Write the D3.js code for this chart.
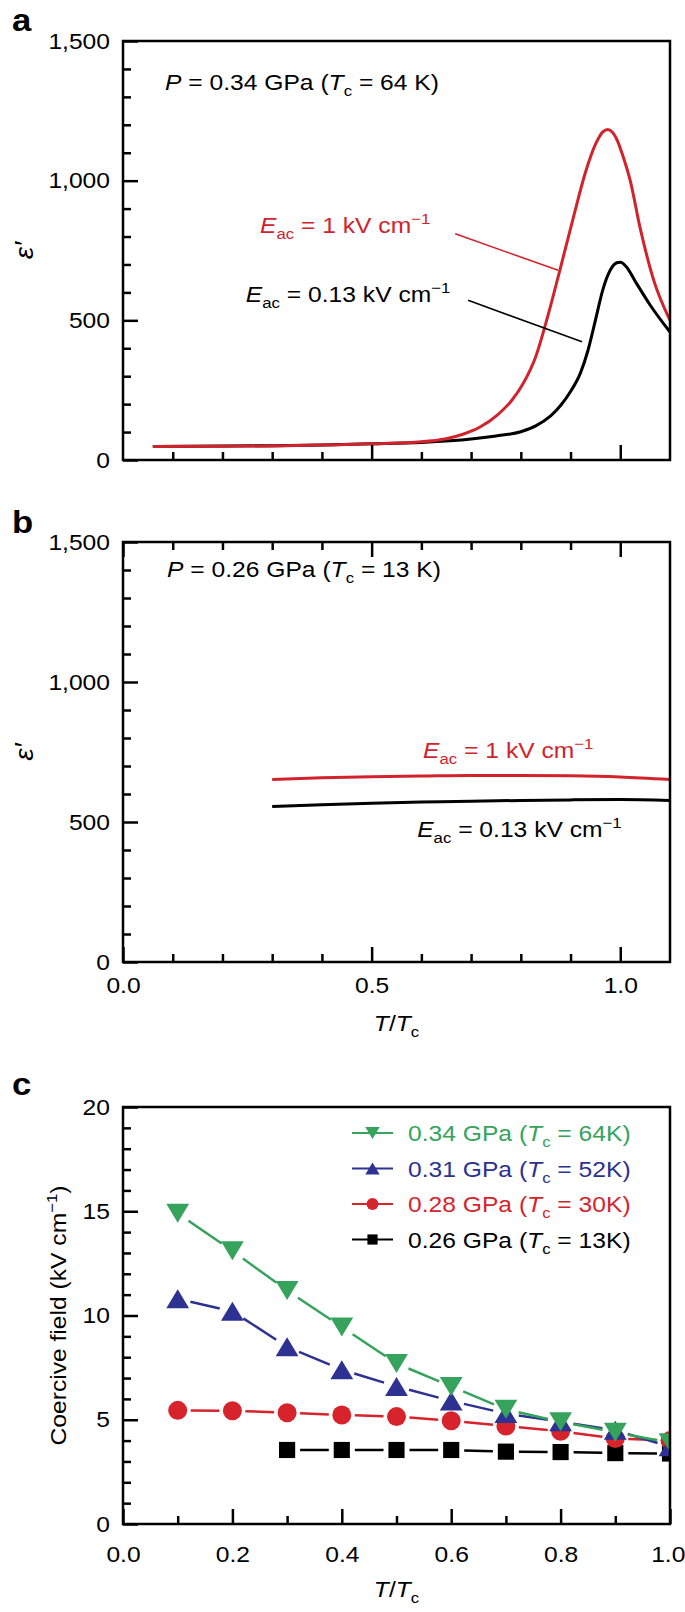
<!DOCTYPE html>
<html><head><meta charset="utf-8">
<script src="https://cdn.jsdelivr.net/npm/d3@7/dist/d3.min.js"></script>
<style>
body{margin:0;background:#fff}
text{font-family:"Liberation Sans",Arial,Helvetica,sans-serif;}
</style>
</head><body>
<svg id="chart" width="685" height="1612"></svg>
<script>
// ---------------- DATA ----------------
// Panel a: P = 0.34 GPa, [T/Tc, eps']
const aRed = [[0.06,48],[0.2,49],[0.3,50],[0.416,54],[0.5,58],[0.6,65],[0.65,76],[0.685,93],[0.718,118],[0.752,160],[0.782,214],[0.805,275],[0.83,370],[0.855,520],[0.88,690],[0.906,870],[0.93,1030],[0.95,1130],[0.965,1175],[0.975,1183],[0.985,1172],[0.995,1140],[1.005,1090],[1.02,1000],[1.04,830],[1.067,645],[1.1,500]];
const aBlack = [[0.06,48],[0.2,50],[0.3,51],[0.4,54],[0.5,58],[0.6,63],[0.7,75],[0.75,86],[0.8,101],[0.83,122],[0.86,158],[0.88,195],[0.9,245],[0.92,312],[0.935,392],[0.95,500],[0.965,610],[0.98,680],[0.993,706],[1.0,708],[1.013,690],[1.03,640],[1.06,555],[1.1,458]];
// Panel b: P = 0.26 GPa
const bRed = [[0.3,652],[0.4,658],[0.5,662],[0.6,664],[0.7,666],[0.8,666],[0.9,665],[1.0,661],[1.1,652]];
const bBlack = [[0.3,555],[0.4,562],[0.5,567],[0.6,571],[0.7,574],[0.8,577],[0.9,579],[1.0,580],[1.1,577]];
// Panel c: coercive field (kV/cm) vs T/Tc
const cT = [0.1,0.2,0.3,0.4,0.5,0.6,0.7,0.8,0.9,1.0];
const c034 = [14.9,13.1,11.2,9.45,7.7,6.6,5.5,4.9,4.4,3.9];
const c031 = [10.8,10.2,8.5,7.4,6.6,5.9,5.3,4.9,4.5,3.7];
const c028 = [5.45,5.43,5.34,5.23,5.15,4.95,4.7,4.45,4.1,4.0];
const c026T = [0.3,0.4,0.5,0.6,0.7,0.8,0.9,1.0];
const c026 = [3.55,3.55,3.55,3.55,3.47,3.45,3.4,3.38];
const cLegend = [
  {p:"0.34 GPa (", tc:" = 64K)", color:"#35a35b", shape:"down"},
  {p:"0.31 GPa (", tc:" = 52K)", color:"#2c3192", shape:"up"},
  {p:"0.28 GPa (", tc:" = 30K)", color:"#d6232c", shape:"circle"},
  {p:"0.26 GPa (", tc:" = 13K)", color:"#000000", shape:"square"}
];
// Tick values / labels
const epsMajor = [0,500,1000,1500];
const epsMinor = [100,200,300,400,600,700,800,900,1100,1200,1300,1400];
const tMajorAB = [0,0.5,1.0];
const tMinorAB = [0.1,0.2,0.3,0.4,0.6,0.7,0.8,0.9];
const cYMajor = [0,5,10,15,20];
const cYMinor = [1,2,3,4,6,7,8,9,11,12,13,14,16,17,18,19];
const cXMajor = [0,0.2,0.4,0.6,0.8,1.0];
const cXMinor = [0.1,0.3,0.5,0.7,0.9];

// ---------------- SETUP ----------------
const RED = "#d2232d";
const SX = 1.12, FS = 22;
const svg = d3.select("#chart");

function richText(parent, x, y, parts, o = {}) {
  const t = parent.append("text")
    .attr("transform", `translate(${x},${y})${o.rotate ? ` rotate(${o.rotate})` : ""} scale(${SX},1)`)
    .attr("font-size", o.size || FS).attr("fill", o.color || "#000")
    .attr("text-anchor", o.anchor || "start")
    .attr("font-weight", o.bold ? "bold" : null);
  let shift = 0;
  parts.forEach(p => {
    const s = typeof p === "string" ? {t: p} : p;
    const ts = t.append("tspan").text(s.t);
    const target = s.sub ? 6 : (s.sup ? -9 : 0);
    if (target !== shift) { ts.attr("dy", target - shift); shift = target; }
    if (s.sub || s.sup) ts.attr("font-size", 15);
    if (s.i) ts.attr("font-style", "italic");
  });
  return t;
}

function drawAxes(g, x, y, cfg) {
  const [x0, x1] = x.range(), [y0, y1] = y.range();
  g.append("g").attr("transform", `translate(${x0},0)`)
    .call(d3.axisLeft(y).tickValues(cfg.yMinor).tickSize(-8).tickFormat(""));
  g.append("g").attr("transform", `translate(${x0},0)`)
    .call(d3.axisLeft(y).tickValues(cfg.yMajor).tickSize(-15).tickPadding(11.6).tickFormat(cfg.yFmt));
  g.append("g").attr("transform", `translate(0,${y0})`)
    .call(d3.axisBottom(x).tickValues(cfg.xMinor).tickSize(-8).tickFormat(""));
  const bx = g.append("g").attr("class", "xmajor").attr("transform", `translate(0,${y0})`)
    .call(d3.axisBottom(x).tickValues(cfg.xMajor).tickSize(-15).tickPadding(cfg.xPad || 10)
      .tickFormat(cfg.xFmt || (() => "")));
  if (cfg.top) {
    g.append("g").attr("transform", `translate(0,${y1})`)
      .call(d3.axisTop(x).tickValues(cfg.xMinor).tickSize(-8).tickFormat(""));
    g.append("g").attr("transform", `translate(0,${y1})`)
      .call(d3.axisTop(x).tickValues(cfg.xMajor).tickSize(-15).tickFormat(""));
  }
  g.selectAll(".domain").remove();
  g.selectAll("g").attr("font-family", null).attr("font-size", null);
  g.selectAll(".tick line").attr("stroke", "#000").attr("stroke-width", 2.5);
  g.selectAll(".tick text").attr("font-size", FS).attr("fill", "#000")
    .attr("transform", `scale(${SX},1)`);
  g.append("rect").attr("x", x0).attr("y", y1).attr("width", x1 - x0).attr("height", y0 - y1)
    .attr("fill", "none").attr("stroke", "#000").attr("stroke-width", 2.5);
  return bx;
}

function clip(id, x, y) {
  const [x0, x1] = x.range(), [y0, y1] = y.range();
  svg.append("clipPath").attr("id", id).append("rect")
    .attr("x", x0).attr("y", y1).attr("width", x1 - x0).attr("height", y0 - y1);
}

const fmtComma = d3.format(",");
const fmt1 = d3.format(".1f");
const Eparts = (v) => [{t:"E", i:true}, {t:"ac", sub:true}, ` = ${v} kV cm`, {t:"\u22121", sup:true}];

// ---------------- PANEL A ----------------
const xA = d3.scaleLinear([0, 1.1], [123, 670]);
const yA = d3.scaleLinear([0, 1500], [460, 41]);
const gA = svg.append("g");
clip("clipA", xA, yA);
const lineA = d3.line().x(d => xA(d[0])).y(d => yA(d[1])).curve(d3.curveMonotoneX);
gA.append("g").attr("clip-path", "url(#clipA)").selectAll("path").data([[aBlack, "#000"], [aRed, RED]])
  .join("path").attr("d", d => lineA(d[0])).attr("fill", "none").attr("stroke", d => d[1])
  .attr("stroke-width", 3).attr("stroke-linejoin", "round");
drawAxes(gA, xA, yA, {yMajor: epsMajor, yMinor: epsMinor, yFmt: fmtComma,
  xMajor: [0.5, 1.0], xMinor: tMinorAB});
// annotations
richText(gA, xA(0.0845), yA(1325), [{t:"P", i:true}, " = 0.34 GPa (", {t:"T", i:true}, {t:"c", sub:true}, " = 64 K)"]);
richText(gA, xA(0.2755), yA(812), Eparts("1"), {color: RED});
richText(gA, xA(0.247), yA(566), Eparts("0.13"));
gA.append("line").attr("x1", xA(0.668)).attr("y1", yA(810)).attr("x2", xA(0.875)).attr("y2", yA(679))
  .attr("stroke", RED).attr("stroke-width", 1.6);
gA.append("line").attr("x1", xA(0.694)).attr("y1", yA(572)).attr("x2", xA(0.923)).attr("y2", yA(423))
  .attr("stroke", "#000").attr("stroke-width", 1.6);
richText(gA, 33, (yA.range()[0] + yA.range()[1]) / 2, [{t:"\u03b5\u2032", i:true}], {rotate: -90, anchor: "middle", size: 25});
richText(gA, 12, 31, ["a"], {bold: true, size: 31});

// ---------------- PANEL B ----------------
const xB = d3.scaleLinear([0, 1.1], [123, 670]);
const yB = d3.scaleLinear([0, 1500], [962, 542]);
const gB = svg.append("g");
clip("clipB", xB, yB);
const lineB = d3.line().x(d => xB(d[0])).y(d => yB(d[1])).curve(d3.curveMonotoneX);
gB.append("g").attr("clip-path", "url(#clipB)").selectAll("path").data([[bBlack, "#000"], [bRed, RED]])
  .join("path").attr("d", d => lineB(d[0])).attr("fill", "none").attr("stroke", d => d[1])
  .attr("stroke-width", 3);
drawAxes(gB, xB, yB, {yMajor: epsMajor, yMinor: epsMinor, yFmt: fmtComma,
  xMajor: tMajorAB, xMinor: tMinorAB, xFmt: fmt1, xPad: 15.4, top: true});
richText(gB, xB(0.0885), yB(1375), [{t:"P", i:true}, " = 0.26 GPa (", {t:"T", i:true}, {t:"c", sub:true}, " = 13 K)"]);
richText(gB, xB(0.6035), yB(729), Eparts("1"), {color: RED});
richText(gB, xB(0.5915), yB(446), Eparts("0.13"));
richText(gB, 33, (yB.range()[0] + yB.range()[1]) / 2, [{t:"\u03b5\u2032", i:true}], {rotate: -90, anchor: "middle", size: 25});
richText(gB, (xB.range()[0] + xB.range()[1]) / 2, 1031, [{t:"T", i:true}, "/", {t:"T", i:true}, {t:"c", sub:true}], {anchor: "middle"});
richText(gB, 12, 533, ["b"], {bold: true, size: 31});

// ---------------- PANEL C ----------------
const xC = d3.scaleLinear([0, 1], [123, 670]);
const yC = d3.scaleLinear([0, 20], [1524, 1107]);
const gC = svg.append("g");
clip("clipC", xC, yC);
const plotC = gC.append("g").attr("clip-path", "url(#clipC)");

function markerPath(shape, s) {
  if (shape === "down") { const w = s * 1.2, h = s; return `M${-w/2},${-h/2}L${w/2},${-h/2}L0,${h/2}Z`; }
  if (shape === "up") { const w = s * 1.2, h = s; return `M${-w/2},${h/2}L${w/2},${h/2}L0,${-h/2}Z`; }
  if (shape === "square") { const h = s * 0.85 / 2; return `M${-h},${-h}H${h}V${h}H${-h}Z`; }
  const r = s / 2; return `M${-r},0A${r},${r} 0 1,0 ${r},0A${r},${r} 0 1,0 ${-r},0Z`;
}

const cSeries = [
  {t: c026T, v: c026, ...cLegend[3]},
  {t: cT, v: c028, ...cLegend[2]},
  {t: cT, v: c031, ...cLegend[1]},
  {t: cT, v: c034, ...cLegend[0]}
];
const GAP = 13;
cSeries.forEach(s => {
  const pts = s.t.map((t, i) => [xC(t), yC(s.v[i])]);
  const segs = d3.pairs(pts).map(([a, b]) => {
    const dx = b[0] - a[0], dy = b[1] - a[1], L = Math.hypot(dx, dy);
    const ux = dx / L, uy = dy / L;
    return [a[0] + ux * GAP, a[1] + uy * GAP, b[0] - ux * GAP, b[1] - uy * GAP];
  });
  const g = plotC.append("g");
  g.selectAll("line").data(segs).join("line")
    .attr("x1", d => d[0]).attr("y1", d => d[1]).attr("x2", d => d[2]).attr("y2", d => d[3])
    .attr("stroke", s.color).attr("stroke-width", 2.5);
  g.selectAll("path").data(pts).join("path")
    .attr("d", markerPath(s.shape, 19))
    .attr("transform", d => `translate(${d[0]},${d[1]})`).attr("fill", s.color);
});

const bxC = drawAxes(gC, xC, yC, {yMajor: cYMajor, yMinor: cYMinor, yFmt: d3.format("d"),
  xMajor: cXMajor, xMinor: cXMinor, xFmt: fmt1, xPad: 22.4});
// keep the last label inside the page edge
bxC.selectAll(".tick text").filter(d => d === 1).attr("dx", -2);

// legend
const leg = gC.append("g");
const legY0 = 1133, legDY = 35.5;
cLegend.forEach((d, i) => {
  const y = legY0 + i * legDY;
  leg.append("line").attr("x1", 352).attr("x2", 393).attr("y1", y).attr("y2", y)
    .attr("stroke", d.color).attr("stroke-width", 2);
  leg.append("path").attr("d", markerPath(d.shape, 12)).attr("transform", `translate(372.5,${y})`).attr("fill", d.color);
  richText(leg, 408, y + 8, [d.p, {t:"T", i:true}, {t:"c", sub:true}, d.tc], {color: d.color});
});

richText(gC, 66, (yC.range()[0] + yC.range()[1]) / 2,
  ["Coercive field (kV cm", {t:"\u22121", sup:true}, ")"], {rotate: -90, anchor: "middle"});
richText(gC, (xC.range()[0] + xC.range()[1]) / 2, 1597, [{t:"T", i:true}, "/", {t:"T", i:true}, {t:"c", sub:true}], {anchor: "middle"});
richText(gC, 12, 1095, ["c"], {bold: true, size: 31});
</script>
</body></html>
